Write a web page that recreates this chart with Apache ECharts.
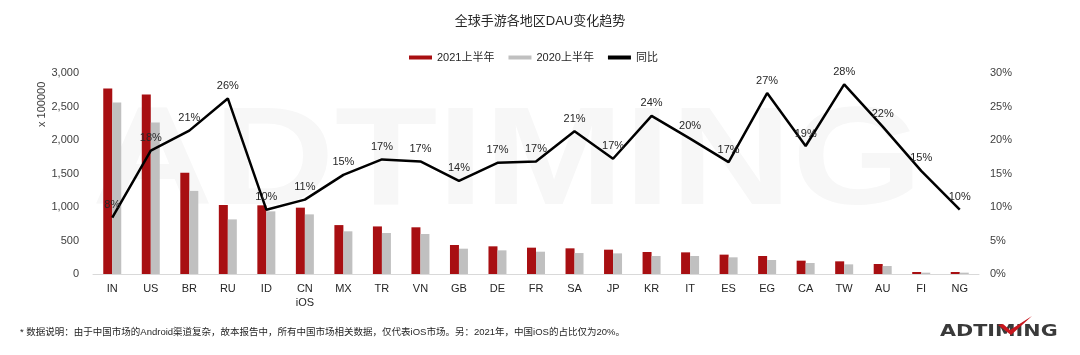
<!DOCTYPE html>
<html><head><meta charset="utf-8">
<script src="https://cdn.jsdelivr.net/npm/echarts@6/dist/echarts.min.js"></script>
<style>html,body{margin:0;padding:0;background:#fff}#c{width:1080px;height:355px}</style>
</head><body><div id="c"></div>
<script>
const categories = ['IN','US','BR','RU','ID','CN\niOS','MX','TR','VN','GB','DE','FR','SA','JP','KR','IT','ES','EG','CA','TW','AU','FI','NG'];
const dau2021 = [2770,2680,1510,1030,1025,990,730,710,697,433,413,393,383,363,328,323,289,269,199,189,149,30,30];
const dau2020 = [2560,2260,1240,815,935,890,637,612,597,378,353,333,313,308,269,269,249,209,164,144,119,20,20];
const yoy = [8.4,18.4,21.4,26.2,9.6,11.1,14.8,17.1,16.8,13.9,16.6,16.8,21.3,17.2,23.6,20.2,16.7,27.0,19.1,28.3,22.0,15.4,9.6];
const leftTicks = {min:0,max:3000,interval:500};
const rightTicks = {min:0,max:30,interval:5};

const FF = "'Liberation Sans','Noto Sans CJK SC',sans-serif";
const chart = echarts.init(document.getElementById('c'), null, {renderer:'canvas'});
chart.setOption({
  backgroundColor:'#fff',
  textStyle:{fontFamily:FF},
  title:{text:'全球手游各地区DAU变化趋势',left:'center',top:10,
    textStyle:{fontSize:13,fontWeight:'normal',color:'#262626',fontFamily:FF}},
  legend:{left:404,top:47,itemWidth:23,itemHeight:4,itemGap:14,
    textStyle:{fontSize:11,color:'#262626',fontFamily:FF},
    data:[{name:'2021上半年',icon:'rect'},{name:'2020上半年',icon:'rect'},{name:'同比',icon:'rect'}]},
  grid:{left:93,right:101,top:73,bottom:81,containLabel:false},
  graphic:[
    {type:'text',z:-10,x:92,y:95,scaleX:1.2,style:{text:'ADTIMING',font:"bold 140px 'Liberation Sans'",fill:'#f7f7f7'}},
    {type:'text',rotation:Math.PI/2,x:36,y:127,style:{text:'x 100000',font:"11px "+FF,fill:'#404040'}},
    {type:'text',left:20,top:328,style:{text:'* 数据说明：由于中国市场的Android渠道复杂，故本报告中，所有中国市场相关数据，仅代表iOS市场。另：2021年，中国iOS的占比仅为20%。',font:"9.5px "+FF,fill:'#262626'}},
    {type:'text',x:940,y:325,scaleX:1.38,style:{text:'ADTIMING',font:"bold 15px 'DejaVu Sans'",fill:'#3a3a3a'}},
    {type:'polygon',shape:{points:[[998,325],[1003,324],[1010,330],[1032,316],[1011,335]]},style:{fill:'#c8161d'}}
  ],
  xAxis:{type:'category',data:categories,
    axisTick:{show:false},axisLine:{lineStyle:{color:'#d9d9d9',width:1}},
    axisLabel:{fontSize:11,color:'#262626',margin:8,lineHeight:14,interval:0}},
  yAxis:[
    {type:'value',min:leftTicks.min,max:leftTicks.max,interval:leftTicks.interval,
      splitLine:{show:false},axisLine:{show:false},axisTick:{show:false},
      axisLabel:{fontSize:11,color:'#404040',margin:14}},
    {type:'value',min:rightTicks.min,max:rightTicks.max,interval:rightTicks.interval,
      splitLine:{show:false},axisLine:{show:false},axisTick:{show:false},
      axisLabel:{fontSize:11,color:'#404040',margin:11,formatter:'{value}%'}}
  ],
  series:[
    {name:'2021上半年',type:'bar',data:dau2021,barWidth:9,barGap:'0%',itemStyle:{color:'#a80f12'}},
    {name:'2020上半年',type:'bar',data:dau2020,barWidth:9,barGap:'0%',itemStyle:{color:'#c0c0c0'}},
    {name:'同比',type:'line',yAxisIndex:1,data:yoy,symbol:'circle',symbolSize:0.1,showSymbol:true,
      itemStyle:{color:'#000'},lineStyle:{color:'#000',width:2.5},
      label:{show:true,position:'top',distance:7,fontSize:11,color:'#262626',
        formatter:p=>Math.round(p.value)+'%'}}
  ]
});
</script></body></html>
